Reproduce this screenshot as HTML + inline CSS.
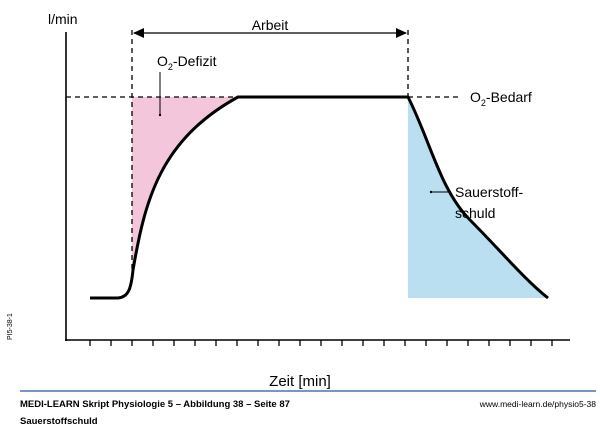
<!DOCTYPE html>
<html><head><style>
body{margin:0;background:#fff;}
svg text{font-family:"Liberation Sans",sans-serif;}
</style></head><body>
<svg width="600" height="430" viewBox="0 0 600 430" xmlns="http://www.w3.org/2000/svg">
<path d="M132,97 L132,280 L133,270 C145,200 160,140 238,97 Z" fill="#f3c6dc"/>
<path d="M408,97 C430,140 440,190 470,220 C500,250 525,280 548,298 L408,298 Z" fill="#b9dff1"/>
<line x1="66" y1="32" x2="66" y2="341" stroke="#000" stroke-width="1.6"/>
<line x1="65" y1="340" x2="570" y2="340" stroke="#000" stroke-width="1.6"/>
<g stroke="#000" stroke-width="1.3">
<line x1="90" y1="340" x2="90" y2="346"/><line x1="111" y1="340" x2="111" y2="346"/><line x1="132" y1="340" x2="132" y2="346"/><line x1="153" y1="340" x2="153" y2="346"/><line x1="174" y1="340" x2="174" y2="346"/><line x1="195" y1="340" x2="195" y2="346"/><line x1="216" y1="340" x2="216" y2="346"/><line x1="237" y1="340" x2="237" y2="346"/><line x1="258" y1="340" x2="258" y2="346"/><line x1="279" y1="340" x2="279" y2="346"/><line x1="300" y1="340" x2="300" y2="346"/><line x1="321" y1="340" x2="321" y2="346"/><line x1="342" y1="340" x2="342" y2="346"/><line x1="363" y1="340" x2="363" y2="346"/><line x1="384" y1="340" x2="384" y2="346"/><line x1="405" y1="340" x2="405" y2="346"/><line x1="426" y1="340" x2="426" y2="346"/><line x1="447" y1="340" x2="447" y2="346"/><line x1="468" y1="340" x2="468" y2="346"/><line x1="489" y1="340" x2="489" y2="346"/><line x1="510" y1="340" x2="510" y2="346"/><line x1="531" y1="340" x2="531" y2="346"/><line x1="552" y1="340" x2="552" y2="346"/>
</g>
<g stroke="#000" stroke-width="1.3" stroke-dasharray="5,4" fill="none">
<line x1="66" y1="97" x2="460" y2="97"/>
<line x1="132" y1="30" x2="132" y2="272"/>
<line x1="408" y1="30" x2="408" y2="97"/>
</g>
<line x1="134" y1="33" x2="406" y2="33" stroke="#000" stroke-width="1.3"/>
<path d="M133,33 L144,28 L144,38 Z"/>
<path d="M407,33 L396,28 L396,38 Z"/>
<path d="M90,298 L118,298 C128,297 131,290 133,270 C145,200 160,140 238,97 L408,97 C430,140 440,190 470,220 C500,250 525,280 548,298" fill="none" stroke="#000" stroke-width="3"/>
<line x1="160" y1="72" x2="160" y2="115" stroke="#000" stroke-width="1"/>
<circle cx="160" cy="115" r="1.2"/>
<line x1="431" y1="192" x2="451" y2="192" stroke="#000" stroke-width="1"/>
<circle cx="431" cy="192" r="1.2"/>
<text x="48" y="24" font-size="14">l/min</text>
<text x="270" y="30" font-size="14" text-anchor="middle">Arbeit</text>
<text x="157" y="66" font-size="14">O<tspan font-size="9" dy="4">2</tspan><tspan dy="-4">-Defizit</tspan></text>
<text x="470" y="102" font-size="14">O<tspan font-size="9" dy="4">2</tspan><tspan dy="-4">-Bedarf</tspan></text>
<text x="455" y="197" font-size="14">Sauerstoff-</text>
<text x="455" y="218" font-size="14">schuld</text>
<text x="300" y="386" font-size="15" text-anchor="middle">Zeit [min]</text>
<text transform="translate(12,340) rotate(-90)" font-size="7">PI5-38-1</text>
<line x1="20" y1="391" x2="596" y2="391" stroke="#4a73b5" stroke-width="1.5"/>
<text x="20" y="407" font-size="9.5" font-weight="bold">MEDI-LEARN Skript Physiologie 5 – Abbildung 38 – Seite 87</text>
<text x="596" y="407" font-size="8.5" text-anchor="end">www.medi-learn.de/physio5-38</text>
<text x="20" y="424" font-size="9.5" font-weight="bold">Sauerstoffschuld</text>
</svg>
</body></html>
